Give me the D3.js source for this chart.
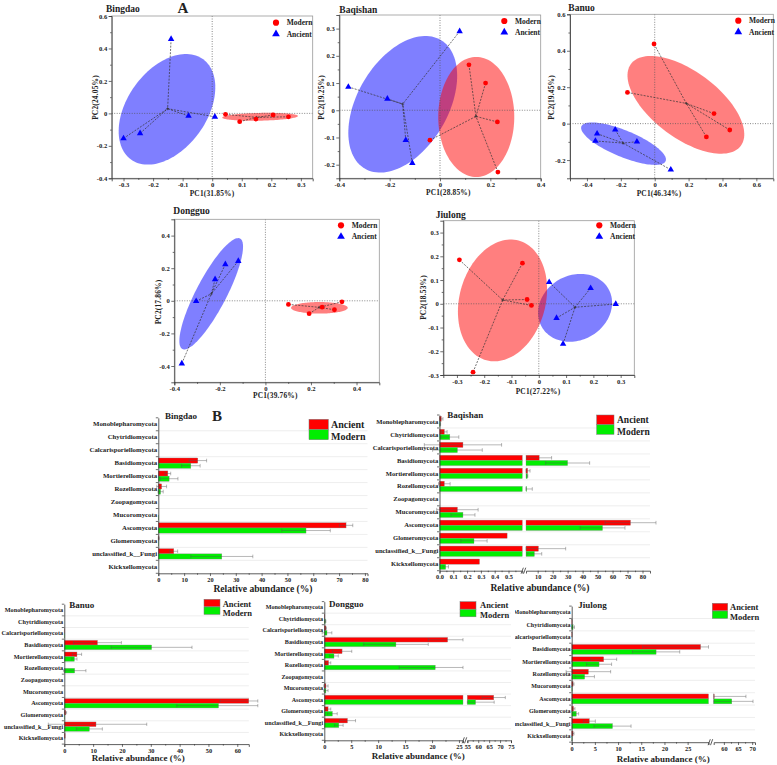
<!DOCTYPE html>
<html><head><meta charset="utf-8">
<script src="https://cdn.jsdelivr.net/npm/d3@7"></script>
<style>
body{margin:0;background:#fff}
svg{display:block}
text{font-family:"Liberation Serif","Times New Roman",serif;font-weight:bold;fill:#222}
</style>
</head><body>
<svg id="c" width="777" height="765"></svg>
<script>
// ================= DATA: Panel A (PCA) =================
const pcaSites = ["Bingdao", "Baqishan", "Banuo", "Dongguo", "Jiulong"];
const pcaPC1Labels = ["PC1(31.85%)", "PC1(28.85%)", "PC1(46.34%)", "PC1(39.76%)", "PC1(27.22%)"];
const pcaPC2Labels = ["PC2(24.05%)", "PC2(19.25%)", "PC2(19.45%)", "PC2(17.86%)", "PC2(18.53%)"];
const pcaGroups = ["Modern", "Ancient"];

const bingdaoModernPts = [[0.045,-0.006],[0.093,-0.051],[0.148,-0.035],[0.206,-0.010],[0.258,-0.021]];
const bingdaoAncientPts = [[-0.139,0.458],[-0.300,-0.154],[-0.244,-0.123],[-0.080,-0.016],[0.009,-0.021]];
// ellipse: [cx, cy, ux, uy, vx, vy] (centre and two conjugate semi-axes, data units)
const bingdaoModernEllipse = [0.162,-0.021, 0.128,0.005, 0,0.024];
const bingdaoAncientEllipse = [-0.153,0.025, 0.1227,0.308, 0.108,-0.1458];

const baqishanModernPts = [[0.115,0.167],[0.181,0.100],[0.228,-0.043],[0.230,-0.227],[-0.040,-0.110]];
const baqishanAncientPts = [[0.078,0.290],[-0.364,0.086],[-0.209,0.042],[-0.136,-0.110],[-0.110,-0.194]];
const baqishanModernEllipse = [0.144,-0.0245, 0,0.2206, 0.151,0];
const baqishanAncientEllipse = [-0.148,0.022, 0.151,0.2363, 0.1547,-0.0847];

const banuoModernPts = [[-0.004,0.437],[-0.161,0.171],[0.350,0.055],[0.443,-0.035],[0.305,-0.073]];
const banuoAncientPts = [[-0.340,-0.055],[-0.350,-0.095],[-0.233,-0.033],[-0.105,-0.099],[0.095,-0.253]];
const banuoModernEllipse = [0.184,0.103, 0.3252,-0.2233, -0.1142,-0.1484];
const banuoAncientEllipse = [-0.184,-0.110, 0.2487,-0.0950, -0.0289,-0.0675];

const dongguoModernPts = [[0.101,-0.022],[0.192,-0.079],[0.249,-0.039],[0.303,-0.055],[0.336,-0.006]];
const dongguoAncientPts = [[-0.367,-0.385],[-0.304,-0.002],[-0.221,0.132],[-0.176,0.224],[-0.119,0.244]];
const dongguoModernEllipse = [0.237,-0.043, 0.1244,0, 0,0.0356];
const dongguoAncientEllipse = [-0.238,0.043, 0.1267,0.3389, 0.0591,-0.0430];

const jiulongModernPts = [[-0.291,0.185],[-0.060,0.171],[-0.043,0.018],[-0.027,-0.007],[-0.241,-0.288]];
const jiulongAncientPts = [[0.038,0.091],[0.190,0.066],[0.282,-0.001],[0.065,-0.060],[0.089,-0.169]];
const jiulongModernEllipse = [-0.133,0.014, 0.0589,0.2521, 0.1524,-0.0469];
const jiulongAncientEllipse = [0.133,-0.017, 0.1219,0.0808, 0.0594,-0.118];

const bingdaoPcaXTicks = [-0.3,-0.2,-0.1,0,0.1,0.2,0.3];
const bingdaoPcaYTicks = [-0.4,-0.2,0,0.2,0.4,0.6];
const baqishanPcaXTicks = [-0.4,-0.2,0,0.2,0.4];
const baqishanPcaYTicks = [-0.2,-0.1,0,0.1,0.2,0.3];
const banuoPcaXTicks = [-0.4,-0.2,0,0.2,0.4,0.6];
const banuoPcaYTicks = [-0.2,0,0.2,0.4,0.6];
const dongguoPcaXTicks = [-0.4,-0.2,0,0.2,0.4];
const dongguoPcaYTicks = [-0.4,-0.2,0,0.2,0.4];
const jiulongPcaXTicks = [-0.3,-0.2,-0.1,0,0.1,0.2,0.3];
const jiulongPcaYTicks = [-0.3,-0.2,-0.1,0,0.1,0.2,0.3];

// ================= DATA: Panel B (relative abundance, %) =================
const barSeries = ["Ancient", "Modern"];
const fungiPhyla = ["Monoblepharomycota","Chytridiomycota","Calcarisporiellomycota","Basidiomycota",
  "Mortierellomycota","Rozellomycota","Zoopagomycota","Mucoromycota","Ascomycota","Glomeromycota",
  "unclassified_k__Fungi","Kickxellomycota"];
const jiulongPhyla = ["Monoblepharomycota","Chytridiomycota","Calcarisporiellomycota","Basidiomycota",
  "Mortierellomycota","Rozellomycota","Mucoromycota","Ascomycota","Glomeromycota",
  "unclassified_k__Fungi","Kickxellomycota"];

const bingdaoAncientAbund = [0,0,0,15.3,3.7,1.3,0,0,72.7,0.2,6.0,0];
const bingdaoAncientSD    = [0,0,0,3.4,1.1,1.9,0,0,2.6,0.2,1.5,0];
const bingdaoModernAbund  = [0,0,0,12.6,4.2,0.9,0,0.1,57.2,0.1,24.6,0];
const bingdaoModernSD     = [0,0,0,3.6,3.4,1.0,0,0,9.4,0,12,0];

const baqishanAncientAbund = [0.013,0.035,0.17,11,3.3,0.035,0,0.13,72,0.49,10.5,0.29];
const baqishanAncientSD    = [0.012,0.02,0.28,8.3,1.6,0.042,0,0.15,17,0,18.2,0];
const baqishanModernAbund  = [0.005,0.075,0.13,30,3.1,2.6,0,0.17,53.3,0.25,7.8,0.045];
const baqishanModernSD     = [0.003,0.065,0.18,14.7,0.3,3.8,0,0.087,15,0.095,4.9,0.02];

const banuoAncientAbund = [0,0,0.1,11.5,4.4,0,0,0,64,0.5,11,0.3];
const banuoAncientSD    = [0,0,0,8.3,1.6,0,0,0,10,0.3,17.6,0];
const banuoModernAbund  = [0,0,0.1,30.3,3.5,3.6,0,0,53.5,0.1,8.7,0];
const banuoModernSD     = [0,0,0,14,0.9,3.9,0,0,14.5,0,4.5,0];

const dongguoAncientAbund = [0,0.1,0.3,22.9,3.3,0.8,0,0.3,67.1,0.7,4.3,0];
const dongguoAncientSD    = [0,0,0.1,3.6,1.8,0.4,0,0.4,5.3,0.5,1.5,0];
const dongguoModernAbund  = [0,0.2,0.5,13.3,1.8,20.6,0,0.3,58.8,1.5,2.7,0];
const dongguoModernSD     = [0,0.1,0.9,6,0.8,6.7,0,0.4,8.5,0.9,0.8,0];

const jiulongAncientAbund = [0,0.1,0.1,27.8,6.9,3.6,0.3,56.6,0.4,3.8,0.3];
const jiulongAncientSD    = [0,0,0,12.5,2.8,4.8,0.2,11.2,0.3,1.3,0.2];
const jiulongModernAbund  = [0,0.3,0,18.2,5.9,2.8,0.1,62.8,1.0,8.8,0.1];
const jiulongModernSD     = [0,0.3,0,5.1,2.7,2.1,0,7.5,0.5,4,0];

const bingdaoBarTicks = [0,10,20,30,40,50,60,70,80];
const baqishanBarTicks1 = [0,0.1,0.2,0.3,0.4,0.5];
const baqishanBarTicks2 = [10,20,30,40,50,60,70,80];
const banuoBarTicks = [0,10,20,30,40,50,60];
const dongguoBarTicks1 = [0,5,10,15,20,25];
const dongguoBarTicks2 = [55,60,65,70,75];
const jiulongBarTicks1 = [0,5,10,15,20,25];
const jiulongBarTicks2 = [60,65,70];

// ================= DRAWING =================
const svg = d3.select("#c");
const FONT = '"Liberation Serif","Times New Roman",serif';
const RED = "#ff0000", BLUE = "#0000ff", GREEN = "#00ee00";

function fmtPca(d){ return Math.abs(d) < 1e-9 ? "0" : String(+d.toFixed(2)); }

function styleAxis(sel, fs){
  sel.attr("font-family", null).attr("font-size", null);
  sel.selectAll("text").attr("font-size", fs).attr("font-weight","bold")
     .attr("font-family", FONT).attr("fill","#222");
  sel.selectAll(".tick line").attr("stroke","#333").attr("stroke-width",0.7);
  sel.select(".domain").attr("stroke","#333").attr("stroke-width",0.8);
}

function minorTicks(major){
  const out = [];
  for (let i = 0; i < major.length - 1; i++) out.push((major[i] + major[i+1]) / 2);
  return out;
}

function drawPCA(p){
  const g = svg.append("g");
  const x = d3.scaleLinear().domain(p.xd).range([p.l, p.r]);
  const y = d3.scaleLinear().domain(p.yd).range([p.b, p.t]);
  const ellPath = e => d3.line()(d3.range(0, 361, 3).map(a => {
    const t = a * Math.PI / 180, c = Math.cos(t), s = Math.sin(t);
    return [x(e[0] + c*e[2] + s*e[4]), y(e[1] + c*e[3] + s*e[5])];
  })) + "Z";
  g.append("path").attr("d", ellPath(p.ellA)).attr("fill", BLUE).attr("fill-opacity", 0.5);
  g.append("path").attr("d", ellPath(p.ellM)).attr("fill", RED).attr("fill-opacity", 0.5);
  // zero lines
  g.append("line").attr("x1", x(0)).attr("x2", x(0)).attr("y1", p.t).attr("y2", p.b)
    .attr("stroke","#555").attr("stroke-width",0.7).attr("stroke-dasharray","1,1.5");
  g.append("line").attr("x1", p.l).attr("x2", p.r).attr("y1", y(0)).attr("y2", y(0))
    .attr("stroke","#555").attr("stroke-width",0.7).attr("stroke-dasharray","1,1.5");
  // spider lines to centroid
  [p.ptsA, p.ptsM].forEach(pts => {
    const cx = d3.mean(pts, d => d[0]), cy = d3.mean(pts, d => d[1]);
    g.append("g").selectAll("line").data(pts).join("line")
      .attr("x1", d => x(d[0])).attr("y1", d => y(d[1]))
      .attr("x2", x(cx)).attr("y2", y(cy))
      .attr("stroke","#333").attr("stroke-width",0.7).attr("stroke-dasharray","2,1.3");
    g.append("path").attr("d", `M${x(cx)-1.5},${y(cy)}h3M${x(cx)},${y(cy)-1.5}v3`)
      .attr("stroke","#333").attr("stroke-width",0.7);
  });
  // points
  g.append("g").selectAll("circle").data(p.ptsM).join("circle")
    .attr("cx", d => x(d[0])).attr("cy", d => y(d[1])).attr("r", 2.4).attr("fill", RED);
  const tri = d3.symbol().type(d3.symbolTriangle).size(18);
  g.append("g").selectAll("path").data(p.ptsA).join("path")
    .attr("d", tri).attr("transform", d => `translate(${x(d[0])},${y(d[1])})`).attr("fill", BLUE);
  // frame
  g.append("rect").attr("x", p.l).attr("y", p.t).attr("width", p.r - p.l).attr("height", p.b - p.t)
    .attr("fill","none").attr("stroke","#999").attr("stroke-width",0.8);
  // axes
  const xa = g.append("g").attr("transform", `translate(0,${p.b})`)
    .call(d3.axisBottom(x).tickValues(p.xt).tickSize(3).tickPadding(1).tickFormat(fmtPca));
  styleAxis(xa, 6.6);
  const xm = g.append("g").attr("transform", `translate(0,${p.b})`)
    .call(d3.axisBottom(x).tickValues(minorTicks(p.xt)).tickSize(1.6).tickFormat(""));
  styleAxis(xm, 6.6); xm.select(".domain").remove();
  const ya = g.append("g").attr("transform", `translate(${p.l},0)`)
    .call(d3.axisLeft(y).tickValues(p.yt).tickSize(3).tickPadding(1.5).tickFormat(fmtPca));
  styleAxis(ya, 6.6);
  const ym = g.append("g").attr("transform", `translate(${p.l},0)`)
    .call(d3.axisLeft(y).tickValues(minorTicks(p.yt)).tickSize(1.6).tickFormat(""));
  styleAxis(ym, 6.6); ym.select(".domain").remove();
  // labels
  g.append("text").attr("x", p.title[0]).attr("y", p.title[1]).attr("font-size", 9.5).text(p.name);
  g.append("text").attr("x", p.pc1[0]).attr("y", p.pc1[1]).attr("text-anchor","middle")
    .attr("font-size", 7.4).attr("letter-spacing", 0.2).text(p.pc1Label);
  g.append("text").attr("transform", `translate(${p.pc2[0]},${p.pc2[1]}) rotate(-90)`)
    .attr("text-anchor","middle").attr("font-size", 7.4).attr("letter-spacing", 0.2).text(p.pc2Label);
  // legend
  const [lx, ly] = p.leg;
  g.append("circle").attr("cx", lx).attr("cy", ly).attr("r", 3.1).attr("fill", RED);
  g.append("path").attr("d", d3.symbol().type(d3.symbolTriangle).size(26)())
    .attr("transform", `translate(${lx},${ly + 11.3})`).attr("fill", BLUE);
  g.append("text").attr("x", lx + 10.7).attr("y", ly + 2.6).attr("font-size", 7.5).text(pcaGroups[0]);
  g.append("text").attr("x", lx + 10.7).attr("y", ly + 13.9).attr("font-size", 7.5).text(pcaGroups[1]);
}

const pcaLayout = [
  {l:111.7, r:312.7, t:16, b:178.3, xd:[-0.34,0.34], yd:[-0.4,0.6], xt:bingdaoPcaXTicks, yt:bingdaoPcaYTicks,
   ptsM:bingdaoModernPts, ptsA:bingdaoAncientPts, ellM:bingdaoModernEllipse, ellA:bingdaoAncientEllipse,
   title:[106,11.8], pc1:[212,196], pc2:[97.7,97.5], leg:[276,22.7]},
  {l:339.3, r:540.7, t:15, b:178.3, xd:[-0.4,0.4], yd:[-0.25,0.35], xt:baqishanPcaXTicks, yt:baqishanPcaYTicks,
   ptsM:baqishanModernPts, ptsA:baqishanAncientPts, ellM:baqishanModernEllipse, ellA:baqishanAncientEllipse,
   title:[339.3,12.5], pc1:[448.3,195.3], pc2:[324.4,97.5], leg:[504.3,21]},
  {l:570, r:773.3, t:14.3, b:178.3, xd:[-0.5,0.7], yd:[-0.3,0.6], xt:banuoPcaXTicks, yt:banuoPcaYTicks,
   ptsM:banuoModernPts, ptsA:banuoAncientPts, ellM:banuoModernEllipse, ellA:banuoAncientEllipse,
   title:[568.3,10.8], pc1:[659,196], pc2:[554.4,97.5], leg:[738.3,20.7]},
  {l:174.3, r:379.3, t:219.3, b:382.3, xd:[-0.4,0.5], yd:[-0.5,0.5], xt:dongguoPcaXTicks, yt:dongguoPcaYTicks,
   ptsM:dongguoModernPts, ptsA:dongguoAncientPts, ellM:dongguoModernEllipse, ellA:dongguoAncientEllipse,
   title:[173.3,214], pc1:[275.3,398], pc2:[161,302], leg:[341,225.3]},
  {l:443.3, r:634.3, t:220.7, b:375, xd:[-0.35,0.35], yd:[-0.3,0.35], xt:jiulongPcaXTicks, yt:jiulongPcaYTicks,
   ptsM:jiulongModernPts, ptsA:jiulongAncientPts, ellM:jiulongModernEllipse, ellA:jiulongAncientEllipse,
   title:[435.7,217.5], pc1:[538,393.5], pc2:[426,297.5], leg:[599.3,225.3]}
];
pcaLayout.forEach((p, i) => drawPCA({...p, name:pcaSites[i], pc1Label:pcaPC1Labels[i], pc2Label:pcaPC2Labels[i]}));

svg.append("text").attr("x", 183).attr("y", 13).attr("text-anchor","middle").attr("font-size", 15).text("A");
svg.append("text").attr("x", 217).attr("y", 420.5).attr("text-anchor","middle").attr("font-size", 15).text("B");

// ---------- bar panels ----------
function drawBars(p){
  const g = svg.append("g");
  if (p.clip){
    svg.append("clipPath").attr("id", p.clip.id).append("rect")
      .attr("x", p.clip.x).attr("y", p.clip.y).attr("width", p.clip.w).attr("height", p.clip.h);
    g.attr("clip-path", `url(#${p.clip.id})`);
  }
  const y = d3.scaleBand().domain(p.cats).range([p.t, p.b]);
  const bw = y.bandwidth(), bh = bw * 0.4;
  const segs = p.segs.map(s => ({...s, sc: d3.scaleLinear().domain(s.d).range(s.r)}));
  const xEnd = segs[segs.length - 1].r[1];
  const bounds = p.cats.map(c => y(c)).concat([p.b]);
  // grid
  g.append("g").selectAll("line").data(bounds.slice(1, -1)).join("line")
    .attr("x1", p.ax).attr("x2", xEnd).attr("y1", d => d).attr("y2", d => d)
    .attr("stroke","#e6e6e6").attr("stroke-width",0.7);
  // mapping for error-bar ends across a broken axis
  const mapV = (v, mean) => {
    let px;
    if (segs.length === 1) px = segs[0].sc(v);
    else {
      const s1 = segs[0], s2 = segs[1];
      if (mean >= s2.d[0] && v < s2.d[0]) px = s2.sc(s2.d[0]);
      else if (v <= s1.d[1]) px = s1.sc(v);
      else if (v >= s2.d[0]) px = s2.sc(v);
      else px = (v - s1.d[1] < s2.d[0] - v) ? s1.sc(s1.d[1]) : s2.sc(s2.d[0]);
    }
    return Math.max(p.ax - 16, Math.min(px, xEnd + p.errExtra));
  };
  const series = [
    {vals:p.anc, sd:p.ancSD, color:RED, off:-bh},
    {vals:p.mod, sd:p.modSD, color:GREEN, off:0}
  ];
  series.forEach(se => {
    const rows = p.cats.map((c, i) => ({c, v: se.vals[i], sd: se.sd[i]}));
    segs.forEach(s => {
      const start = s.d[0];
      const data = rows.filter(r => r.v > start);
      g.append("g").selectAll("rect").data(data).join("rect")
        .attr("x", s.sc(start))
        .attr("width", r => Math.max(0.4, s.sc(Math.min(r.v, s.d[1])) - s.sc(start)))
        .attr("y", r => y(r.c) + bw/2 + se.off).attr("height", bh)
        .attr("fill", se.color).attr("stroke","#888").attr("stroke-width",0.35);
    });
    const errs = rows.filter(r => r.sd > 0);
    const eg = g.append("g").attr("stroke","#555").attr("stroke-opacity",0.6).attr("stroke-width",0.7);
    errs.forEach(r => {
      const yc = y(r.c) + bw/2 + se.off + bh/2;
      const x1 = mapV(r.v - r.sd, r.v), x2 = mapV(r.v + r.sd, r.v);
      eg.append("line").attr("x1", x1).attr("x2", x2).attr("y1", yc).attr("y2", yc);
      eg.append("line").attr("x1", x1).attr("x2", x1).attr("y1", yc - bh*0.35).attr("y2", yc + bh*0.35);
      eg.append("line").attr("x1", x2).attr("x2", x2).attr("y1", yc - bh*0.35).attr("y2", yc + bh*0.35);
    });
  });
  // category axis
  const ya = g.append("g").attr("transform", `translate(${p.ax},0)`)
    .call(d3.axisLeft(y).tickSize(0).tickPadding(1.2));
  styleAxis(ya, p.catFs);
  g.append("g").selectAll("line").data(bounds).join("line")
    .attr("x1", p.ax - 2.5).attr("x2", p.ax).attr("y1", d => d).attr("y2", d => d)
    .attr("stroke","#333").attr("stroke-width",0.7);
  // x axes
  segs.forEach(s => {
    const xa = g.append("g").attr("transform", `translate(0,${p.b})`)
      .call(d3.axisBottom(s.sc).tickValues(s.ticks).tickSize(2.8).tickPadding(1.5).tickFormat(s.fmt));
    styleAxis(xa, p.tickFs);
    xa.selectAll("text").attr("font-weight","normal");
    const xm = g.append("g").attr("transform", `translate(0,${p.b})`)
      .call(d3.axisBottom(s.sc).tickValues(s.minor).tickSize(1.5).tickFormat(""));
    styleAxis(xm, p.tickFs); xm.select(".domain").remove();
  });
  if (segs.length > 1){
    const gx = (segs[0].r[1] + segs[1].r[0]) / 2;
    g.append("path").attr("d", `M${gx-3},${p.b+3}L${gx-0.8},${p.b-3}M${gx-0.6},${p.b+3}L${gx+1.6},${p.b-3}`)
      .attr("stroke","#333").attr("stroke-width",0.8).attr("fill","none");
  }
  // title, legend, x label
  g.append("text").attr("x", p.title[0]).attr("y", p.title[1]).attr("font-size", 9).text(p.name);
  const L = p.legend;
  g.append("rect").attr("x", L.x).attr("y", L.y).attr("width", L.w).attr("height", L.h)
    .attr("fill", RED).attr("stroke","#777").attr("stroke-width",0.5);
  g.append("rect").attr("x", L.x).attr("y", L.y + L.h + L.gap).attr("width", L.w).attr("height", L.h)
    .attr("fill", GREEN).attr("stroke","#777").attr("stroke-width",0.5);
  g.append("text").attr("x", L.tx).attr("y", L.b1).attr("font-size", L.fs).text(barSeries[0]);
  g.append("text").attr("x", L.tx).attr("y", L.b2).attr("font-size", L.fs).text(barSeries[1]);
  g.append("text").attr("x", p.xl[0]).attr("y", p.xl[1]).attr("text-anchor","middle")
    .attr("font-size", p.xlFs).text("Relative abundance (%)");
}

const fInt = d3.format("d"), f1 = d3.format(".1f");

drawBars({name:"Bingdao", cats:fungiPhyla, anc:bingdaoAncientAbund, ancSD:bingdaoAncientSD,
  mod:bingdaoModernAbund, modSD:bingdaoModernSD, ax:158.3, t:417.8, b:573.3, errExtra:10,
  segs:[{d:[0,81], r:[158.3,367.5], ticks:bingdaoBarTicks, minor:minorTicks(bingdaoBarTicks), fmt:fInt}],
  catFs:6.8, tickFs:6.3, title:[165,419], xl:[263,591.5], xlFs:9.6,
  legend:{x:309, y:419.3, w:19.3, h:10, gap:0.4, tx:331, b1:428, b2:439.5, fs:10}});

drawBars({name:"Baqishan", cats:fungiPhyla, anc:baqishanAncientAbund, ancSD:baqishanAncientSD,
  mod:baqishanModernAbund, modSD:baqishanModernSD, ax:439.5, t:415, b:570.7, errExtra:10,
  segs:[{d:[0,0.6], r:[439.5,522.3], ticks:baqishanBarTicks1, minor:minorTicks(baqishanBarTicks1.concat([0.6])), fmt:f1},
        {d:[2.2,85], r:[526,650], ticks:baqishanBarTicks2, minor:minorTicks(baqishanBarTicks2), fmt:fInt}],
  catFs:6.6, tickFs:6.3, title:[447.3,417.5], xl:[540,591], xlFs:9.6,
  legend:{x:596.7, y:415, w:17.3, h:9.5, gap:0.3, tx:617, b1:423.3, b2:435, fs:9.5}});

drawBars({name:"Banuo", cats:fungiPhyla, anc:banuoAncientAbund, ancSD:banuoAncientSD,
  mod:banuoModernAbund, modSD:banuoModernSD, ax:64.3, t:604.2, b:744.1, errExtra:9,
  segs:[{d:[0,64], r:[64.3,248.8], ticks:banuoBarTicks, minor:minorTicks(banuoBarTicks), fmt:fInt}],
  catFs:6.2, tickFs:6.3, title:[69.3,608.3], xl:[138.3,761], xlFs:9,
  legend:{x:204, y:599.3, w:16, h:7.4, gap:0.3, tx:222.7, b1:606.6, b2:616.2, fs:8.5}});

drawBars({name:"Dongguo", cats:fungiPhyla, anc:dongguoAncientAbund, ancSD:dongguoAncientSD,
  mod:dongguoModernAbund, modSD:dongguoModernSD, ax:324.3, t:601.6, b:740.3, errExtra:5,
  segs:[{d:[0,25.75], r:[324.3,463], ticks:dongguoBarTicks1, minor:minorTicks(dongguoBarTicks1), fmt:fInt},
        {d:[55,75], r:[467.3,511], ticks:dongguoBarTicks2, minor:minorTicks(dongguoBarTicks2), fmt:fInt}],
  catFs:6.1, tickFs:6.3, title:[329,606.5], xl:[418.3,759], xlFs:9,
  legend:{x:460, y:601.7, w:16, h:7.4, gap:0.3, tx:480, b1:608, b2:618, fs:8.5}});

drawBars({name:"Jiulong", cats:jiulongPhyla, anc:jiulongAncientAbund, ancSD:jiulongAncientSD,
  mod:jiulongModernAbund, modSD:jiulongModernSD, ax:571.7, t:606.1, b:742.2, errExtra:5,
  segs:[{d:[0,29.5], r:[571.7,708.5], ticks:jiulongBarTicks1, minor:minorTicks(jiulongBarTicks1), fmt:fInt},
        {d:[56.4,71], r:[713.7,755], ticks:jiulongBarTicks2, minor:minorTicks(jiulongBarTicks2), fmt:fInt}],
  catFs:6.05, tickFs:6.3, title:[578.3,608.3], xl:[663.3,762], xlFs:9,
  legend:{x:712.3, y:603.3, w:15.4, h:7.4, gap:0.3, tx:730, b1:609.6, b2:620.2, fs:8.5},
  clip:{id:"clipJ", x:515, y:590, w:262, h:175}});
</script>
</body></html>
